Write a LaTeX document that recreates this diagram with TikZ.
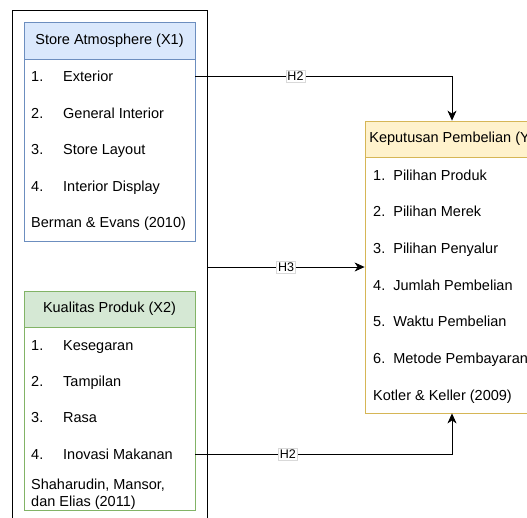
\documentclass[tikz,border=0pt]{standalone}
\usepackage{fontspec}
\setmainfont{Liberation Sans}
\usetikzlibrary{arrows.meta}
\definecolor{xonefill}{HTML}{DAE8FC}
\definecolor{xonedraw}{HTML}{6C8EBF}
\definecolor{xtwofill}{HTML}{D5E8D4}
\definecolor{xtwodraw}{HTML}{82B366}
\definecolor{yfill}{HTML}{FFF2CC}
\definecolor{ydraw}{HTML}{D6B656}
\begin{document}
\begin{tikzpicture}[x=1pt,y=-1pt,font=\fontsize{14.5}{17}\selectfont]
        \useasboundingbox (0,0) rectangle (527,517);
        \clip (0,0) rectangle (527,517);

        \node[draw,line width=1pt,minimum width=195,minimum height=530] (frame) at (109.5,275) {};

        \begin{scope}[every node/.style={draw,line width=0.8pt,inner sep=0pt}]
          \node[draw=xonedraw,fill=white,minimum width=171,minimum height=182] (x1box) at (109.5,150) {};
          \node[draw=xonedraw,fill=xonefill,minimum width=171,minimum height=37] (x1head) at (109.5,40.5) {Store Atmosphere (X1)};
          \node[draw=xtwodraw,fill=white,minimum width=171,minimum height=183] (x2box) at (109.5,418.5) {};
          \node[draw=xtwodraw,fill=xtwofill,minimum width=171,minimum height=36] (x2head) at (109.5,309) {Kualitas Produk (X2)};
          \node[draw=ydraw,fill=white,minimum width=174,minimum height=292] (ybox) at (452,267) {};
          \node[draw=ydraw,fill=yfill,minimum width=174,minimum height=36] (yhead) at (452,139) {Keputusan Pembelian (Y)};
        \end{scope}

        \begin{scope}[every node/.style={anchor=base west,inner sep=0pt}]
          \node (x1n1) at (31,81.5)  {1.};
          \node (x1t1) at (63,81.5)  {Exterior};
          \node (x1n2) at (31,118)   {2.};
          \node (x1t2) at (63,118)   {General Interior};
          \node (x1n3) at (31,154.5) {3.};
          \node (x1t3) at (63,154.5) {Store Layout};
          \node (x1n4) at (31,191)   {4.};
          \node (x1t4) at (63,191)   {Interior Display};
          \node (x1src) at (31,227.5) {Berman \& Evans (2010)};

          \node (x2n1) at (31,350)   {1.};
          \node (x2t1) at (63,350)   {Kesegaran};
          \node (x2n2) at (31,386.7) {2.};
          \node (x2t2) at (63,386.7) {Tampilan};
          \node (x2n3) at (31,422.7) {3.};
          \node (x2t3) at (63,422.7) {Rasa};
          \node (x2n4) at (31,459.3) {4.};
          \node (x2t4) at (63,459.3) {Inovasi Makanan};
          \node (x2src) at (31,489)  {Shaharudin, Mansor,};
          \node (x2srcb) at (31,506.7) {dan Elias (2011)};

          \node (yt1) at (373,180)   {1.\ \ Pilihan Produk};
          \node (yt2) at (373,216.7) {2.\ \ Pilihan Merek};
          \node (yt3) at (373,253.3) {3.\ \ Pilihan Penyalur};
          \node (yt4) at (373,290)   {4.\ \ Jumlah Pembelian};
          \node (yt5) at (373,326.7) {5.\ \ Waktu Pembelian};
          \node (yt6) at (373,363.3) {6.\ \ Metode Pembayaran};
          \node (ysrc) at (373,400)  {Kotler \& Keller (2009)};
        \end{scope}

        \begin{scope}[every node/.style={fill=white,draw=gray!30,inner sep=1.5pt,font=\fontsize{12.5}{14}\selectfont},
                      every path/.style={draw,line width=0.8pt,-{Stealth[length=10pt,width=9pt,inset=3pt]}}]
          \path (x1box.east |- x1t1) -| node[pos=0.195] {H2} (yhead.north);
          \path (frame.east |- ybox.west) -- node {H3} (ybox.west);
          \path (x2box.east |- x2t4) -| node[pos=0.18] {H2} (ybox.south);
        \end{scope}

      \end{tikzpicture}
\end{document}
